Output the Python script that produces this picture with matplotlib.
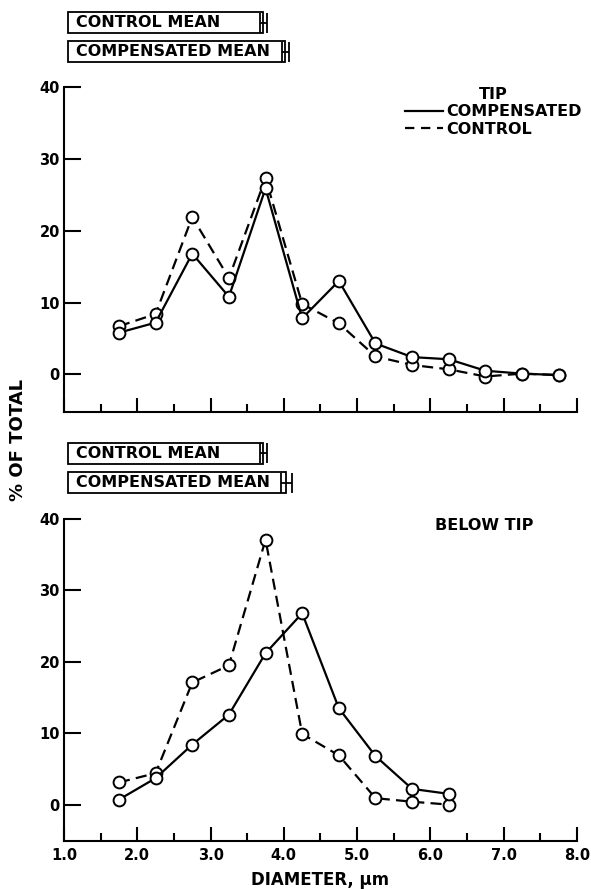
import matplotlib
matplotlib.use("Agg")
from matplotlib import pyplot as plt
from matplotlib.lines import Line2D

plt.rcParams['font.family'] = ['DejaVu Sans']
plt.rcParams['font.weight'] = 'bold'

# Data
diam_tip = [1.75, 2.25, 2.75, 3.25, 3.75, 4.25, 4.75, 5.25, 5.75, 6.25, 6.75, 7.25, 7.75]
tip_comp = [5.8, 7.2, 16.8, 10.8, 25.9, 7.8, 13.0, 4.3, 2.4, 2.1, 0.5, 0.1, -0.1]
tip_ctrl = [6.7, 8.4, 21.9, 13.4, 27.3, 9.8, 7.1, 2.5, 1.3, 0.7, -0.3, 0.1, -0.1]

diam_below = [1.75, 2.25, 2.75, 3.25, 3.75, 4.25, 4.75, 5.25, 5.75, 6.25]
below_comp = [0.7, 3.7, 8.4, 12.6, 21.2, 26.8, 13.5, 6.8, 2.2, 1.5]
below_ctrl = [3.1, 4.4, 17.1, 19.5, 37.1, 9.9, 6.9, 0.9, 0.4, 0.0]

mean_labels = ["CONTROL MEAN", "COMPENSATED MEAN"]
tip_means = [3.72, 4.02]
tip_errs = [0.05, 0.05]
below_means = [3.72, 4.03]
below_errs = [0.05, 0.075]

x_ticks = [1, 2, 3, 4, 5, 6, 7, 8]
x_minor = [1.5, 2.5, 3.5, 4.5, 5.5, 6.5, 7.5]
x_ticklabels = ["1.0", "2.0", "3.0", "4.0", "5.0", "6.0", "7.0", "8.0"]
y_ticks = [0, 10, 20, 30, 40]

W, H = 591, 889
fig = plt.figure(figsize=(W / 100, H / 100), dpi=100)


def px_axes(left, top, right, bottom):
    return fig.add_axes([left / W, 1 - bottom / H, (right - left) / W, (bottom - top) / H])


def style_panel(ax, ymin, show_xlabels):
    ax.set_xlim(1, 8)
    ax.set_ylim(ymin, 40)
    for s in ['top', 'right']:
        ax.spines[s].set_visible(False)
    for s in ['left', 'bottom']:
        ax.spines[s].set_linewidth(1.5)
    ax.set_xticks(x_ticks)
    ax.set_xticks(x_minor, minor=True)
    ax.set_yticks(y_ticks)
    ax.set_yticklabels([str(v) for v in y_ticks])
    ax.tick_params(axis='y', direction='in', length=12, width=1.5, pad=3, labelsize=10.5)
    ax.tick_params(axis='x', which='major', direction='in', length=10, width=1.5, pad=5, labelsize=10.5)
    ax.tick_params(axis='x', which='minor', direction='in', length=6, width=1.5)
    if show_xlabels:
        ax.set_xticklabels(x_ticklabels)
    else:
        ax.tick_params(axis='x', labelbottom=False)


def draw_lines(ax, x, comp, ctrl):
    mk = dict(marker='o', ms=8.5, mfc='white', mec='black', mew=1.4, color='black', lw=1.6)
    ax.plot(x, ctrl, ls=(0, (5, 2.8)), clip_on=False, zorder=3, **mk)
    ax.plot(x, comp, ls='-', clip_on=False, zorder=4, **mk)


def draw_means(ax, means, errs):
    ax.set_xlim(1, 8)
    ax.set_ylim(2, 0)
    ax.axis('off')
    ys = [0.5, 1.5]
    ax.barh(ys, [m - 1.05 for m in means], left=1.05, height=0.72,
            color='white', edgecolor='black', linewidth=1.3)
    ax.errorbar(means, ys, xerr=errs, fmt='none', ecolor='black',
                elinewidth=1.3, capsize=7, capthick=1.3)
    for y, lab in zip(ys, mean_labels):
        ax.text(1.165, y, lab, ha='left', va='center', fontsize=11.5, fontweight='bold')


# top panel: tip
ax_m1 = px_axes(64, 8, 577, 66)
draw_means(ax_m1, tip_means, tip_errs)

ax1 = px_axes(64, 87, 577, 411.7)
style_panel(ax1, -5.2, False)
draw_lines(ax1, diam_tip, tip_comp, tip_ctrl)
handles = [Line2D([], [], color='black', lw=1.6, ls='-'),
           Line2D([], [], color='black', lw=1.6, ls=(0, (4.2, 3.0)))]
leg = ax1.legend(handles, ["COMPENSATED", "CONTROL"], title="TIP", loc='upper right',
                 bbox_to_anchor=(1.01, 1.0), frameon=False, borderaxespad=0, borderpad=0,
                 handlelength=2.4, handletextpad=0.2, labelspacing=0.15,
                 prop={'size': 11.5, 'weight': 'bold'})
leg.get_title().set_fontsize(11.5)
leg.get_title().set_fontweight('bold')

# bottom panel: below tip
ax_m2 = px_axes(64, 439, 577, 497)
draw_means(ax_m2, below_means, below_errs)

ax2 = px_axes(64, 519, 577, 841)
style_panel(ax2, -5.1, True)
draw_lines(ax2, diam_below, below_comp, below_ctrl)
ax2.text(0.82, 0.98, "BELOW TIP", transform=ax2.transAxes, ha='center', va='center',
         fontsize=11.5, fontweight='bold')
ax2.set_xlabel("DIAMETER, \u03bcm", fontsize=12, fontweight='bold', labelpad=6)

fig.text(18 / W, 1 - 440 / H, "% OF TOTAL", rotation=90, ha='center', va='center',
         fontsize=13, fontweight='bold')

fig.savefig("out.png", dpi=100)
